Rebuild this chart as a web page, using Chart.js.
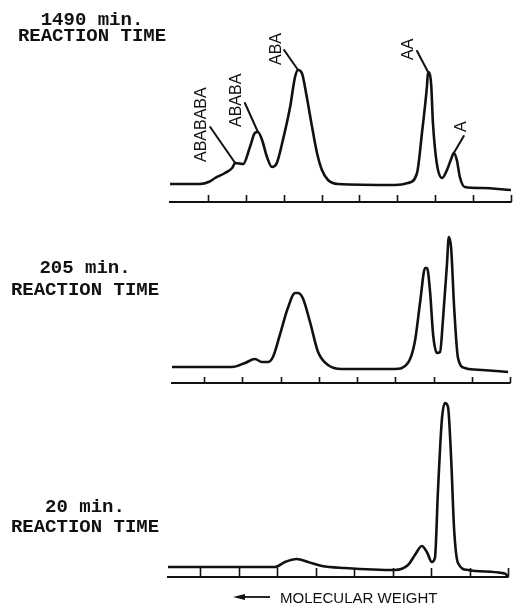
<!DOCTYPE html>
<html>
<head>
<meta charset="utf-8">
<script src="https://cdn.jsdelivr.net/npm/chart.js@4/dist/chart.umd.min.js"></script>
<style>
  html, body { margin: 0; padding: 0; background: #fff; }
  #wrap { position: relative; width: 521px; height: 607px; }
  canvas { position: absolute; left: 0; }
</style>
</head>
<body>
<div id="wrap">
  <canvas id="c1490" width="521" height="215" style="top:0px"></canvas>
  <canvas id="c205" width="521" height="180" style="top:215px"></canvas>
  <canvas id="c20" width="521" height="212" style="top:395px"></canvas>
</div>
<script>
// elution position in tick divisions (0 = left end, high molecular weight)
// detector response in arbitrary units above the axis line

const x1490 = [0, 0.79, 1.05, 1.19, 1.45, 1.64, 1.72, 1.93, 2.11, 2.24, 2.32, 2.43, 2.56, 2.69, 2.82, 2.98,
  3.17, 3.30, 3.38, 3.48, 3.61, 3.75, 3.88, 4.01, 4.17, 4.43, 5.94, 6.28, 6.52, 6.65, 6.78,
  6.81, 6.89, 6.94, 7.04, 7.18, 7.31, 7.44, 7.49, 7.57, 7.65, 7.78, 8.23, 9.0];
const y1490 = [18, 18, 20.5, 24, 29, 34, 39, 38, 55, 69, 70, 62, 45, 35, 39, 62,
  95, 125, 132, 129, 105, 75, 49, 32, 22, 18, 17, 19, 29, 69, 115,
  130, 119, 79, 39, 24, 32, 45, 49, 42, 25, 15, 14, 12];

const x205 = [0.16, 1.73, 2.07, 2.33, 2.51, 2.67, 2.80, 2.98, 3.19, 3.38, 3.45, 3.58, 3.77, 3.98, 4.24,
  4.60, 5.99, 6.33, 6.51, 6.65, 6.78, 6.83, 6.91, 6.99, 7.09, 7.17, 7.25, 7.35, 7.40, 7.46,
  7.54, 7.64, 7.82, 8.27, 8.95];
const y205 = [16, 16, 20, 24, 21, 21, 26, 48, 75, 90, 90, 85, 61, 31, 18,
  14, 14, 20, 41, 81, 115, 115, 91, 48, 30, 31, 65, 118, 146, 135,
  75, 25, 15, 13, 11];

const x20 = [0.16, 2.94, 3.20, 3.51, 3.80, 4.16, 4.76, 6.06, 6.40, 6.58, 6.76, 6.89, 7.02, 7.10, 7.18,
  7.28, 7.36, 7.44, 7.52, 7.60, 7.70, 7.96, 8.84, 8.94, 9.0];
const y20 = [10, 10, 15, 18, 15, 11, 9, 7, 12, 22, 31, 25, 15, 19, 87,
  157, 174, 170, 120, 47, 14, 7, 4, 3, 0];

const tickValues = [0, 1, 2, 3, 4, 5, 6, 7, 8, 9];
const titles = ['1490 min.', '205 min.', '20 min.'];
const subTitle = 'REACTION TIME';

// peak assignments on the 1490 min. trace
const peakNames = ['ABABABA', 'ABABA', 'ABA', 'AA', 'A'];
const peakAt = [1.72, 2.32, 3.38, 6.81, 7.49];

const axisLabel = 'MOLECULAR WEIGHT';

// leader line / label offsets in pixels, relative to the peak
const leaderStyle = [
  { lx: -25, ly: -36, tx: -34, ty: -1 },
  { lx: -13, ly: -29, tx: -21, ty: -5 },
  { lx: -14, ly: -20, tx: -21, ty: -5 },
  { lx: -11, ly: -21, tx: -19, ty: -12 },
  { lx: 10, ly: -17, tx: 8, ty: -21 }
];

const INK = '#111';

function overlayPlugin(p) {
  return {
    id: 'overlay',
    afterDraw(chart) {
      const ctx = chart.ctx;
      const xs = chart.scales.x, ys = chart.scales.y;
      const base = chart.chartArea.bottom;
      ctx.save();
      ctx.fillStyle = INK;
      ctx.strokeStyle = INK;

      // tick marks stand up from the axis line
      ctx.lineWidth = 1.6;
      xs.ticks.forEach(t => {
        if (t.value <= xs.min) return;
        const x = Math.round(xs.getPixelForValue(t.value)) + 0.5;
        ctx.beginPath();
        ctx.moveTo(x, base);
        ctx.lineTo(x, base - p.tick);
        ctx.stroke();
      });

      // panel title
      ctx.font = 'bold 19px "Liberation Mono", "DejaVu Sans Mono", monospace';
      ctx.textAlign = 'center';
      ctx.textBaseline = 'alphabetic';
      ctx.fillText(p.title, p.titleX, p.titleY1);
      ctx.fillText(subTitle, p.titleX, p.titleY2);

      // peak labels with leader lines
      if (p.labels) {
        ctx.font = '16px "Liberation Sans", Arial, sans-serif';
        ctx.lineWidth = 2;
        ctx.lineCap = 'round';
        peakNames.forEach((name, i) => {
          const xv = peakAt[i];
          const yv = p.ys[p.xs.indexOf(xv)];
          const px = xs.getPixelForValue(xv);
          const py = ys.getPixelForValue(yv);
          const s = leaderStyle[i];
          ctx.beginPath();
          ctx.moveTo(px, py);
          ctx.lineTo(px + s.lx, py + s.ly);
          ctx.stroke();
          ctx.save();
          ctx.translate(px + s.tx, py + s.ty);
          ctx.rotate(-Math.PI / 2);
          ctx.textAlign = 'left';
          ctx.textBaseline = 'middle';
          ctx.fillText(name, 0, 0);
          ctx.restore();
        });
      }

      // arrow + axis caption under the last panel
      if (p.caption) {
        const ay = p.captionY - 6;
        ctx.lineWidth = 1.8;
        ctx.beginPath();
        ctx.moveTo(240, ay);
        ctx.lineTo(270, ay);
        ctx.stroke();
        ctx.beginPath();
        ctx.moveTo(233, ay);
        ctx.lineTo(245, ay - 3);
        ctx.lineTo(245, ay + 3);
        ctx.closePath();
        ctx.fill();
        ctx.font = '15px "Liberation Sans", Arial, sans-serif';
        ctx.textAlign = 'left';
        ctx.fillText(axisLabel, 280, p.captionY);
      }
      ctx.restore();
    }
  };
}

function makePanel(id, xs, ys, p) {
  const canvas = document.getElementById(id);
  const H = canvas.height;
  return new Chart(canvas.getContext('2d'), {
    type: 'line',
    data: {
      datasets: [{
        data: xs.map((x, i) => ({ x: x, y: ys[i] })),
        borderColor: INK,
        borderWidth: 2.6,
        pointRadius: 0,
        cubicInterpolationMode: 'monotone',
        fill: false
      }]
    },
    options: {
      responsive: false,
      animation: false,
      events: [],
      layout: {
        padding: { left: p.left, right: 521 - p.right, top: p.padTop, bottom: H - p.axisY }
      },
      plugins: { legend: { display: false }, tooltip: { enabled: false } },
      scales: {
        x: {
          type: 'linear',
          min: p.xMin,
          max: tickValues[tickValues.length - 1],
          afterBuildTicks: s => { s.ticks = tickValues.map(v => ({ value: v })); },
          ticks: { display: false },
          grid: { drawOnChartArea: false, drawTicks: false, lineWidth: 1.6, color: INK },
          border: { display: true, color: INK, width: 2 }
        },
        y: { display: false, min: 0, max: p.axisY - p.padTop }
      }
    },
    plugins: [overlayPlugin(Object.assign({ xs: xs, ys: ys }, p))]
  });
}

makePanel('c1490', x1490, y1490, {
  title: titles[0], titleX: 92, titleY1: 25, titleY2: 41,
  left: 170, right: 511, xMin: 0,
  padTop: 10, axisY: 202, tick: 7, labels: true
});
makePanel('c205', x205, y205, {
  title: titles[1], titleX: 85, titleY1: 58, titleY2: 80,
  left: 172, right: 510, xMin: 0.16,
  padTop: 10, axisY: 168, tick: 6
});
makePanel('c20', x20, y20, {
  title: titles[2], titleX: 85, titleY1: 117, titleY2: 137,
  left: 168, right: 508, xMin: 0.16,
  padTop: 2, axisY: 182, tick: 9, caption: true, captionY: 208
});
</script>
</body>
</html>
